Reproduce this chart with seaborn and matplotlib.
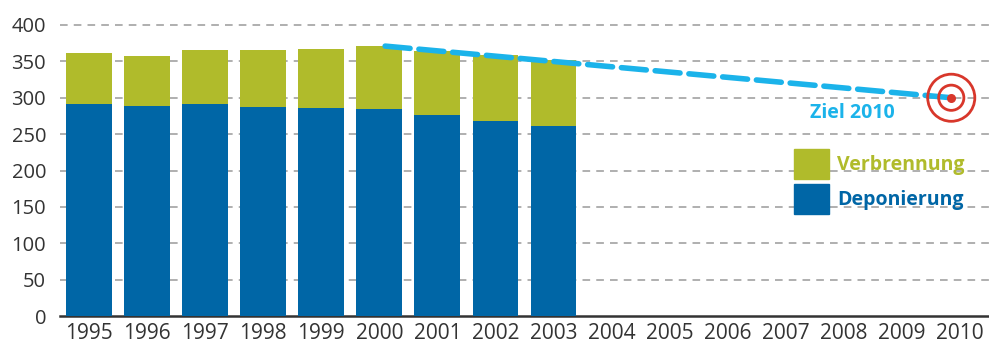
import matplotlib
matplotlib.use("Agg")
import matplotlib.pyplot as plt
import seaborn as sns
import pandas as pd
import numpy as np
from matplotlib.patches import Rectangle

# Waste quantities (stacked): landfill at the bottom, incineration on top
years = [str(y) for y in range(1995, 2011)]
data_years = ["1995", "1996", "1997", "1998", "1999", "2000", "2001", "2002", "2003"]
deponierung = [291, 289, 292, 287, 286, 284, 276, 268, 261]
verbrennung = [70, 69, 73, 78, 81, 87, 88, 91, 91]

# Target path towards 2010 (category positions)
target_pos = [5.1, 14.85]
target_values = [371, 300]

c_blue = "#0066A6"
c_green = "#B0BB2B"
c_cyan = "#1BB3EA"
c_red = "#D8372B"
c_text = "#333333"

sns.set_theme(style="white")
plt.rcParams["font.family"] = ["Open Sans", "DejaVu Sans"]

df = pd.DataFrame({
    "year": data_years,
    "dep": deponierung,
    "total": np.array(deponierung) + np.array(verbrennung),
})

fig = plt.figure(figsize=(9.89, 3.45), dpi=100)
ax = fig.add_axes([60 / 989, 29 / 345, 1 - 60 / 989, 291 / 345])

sns.barplot(data=df, x="year", y="total", order=years, color=c_green,
            width=0.79, saturation=1, linewidth=0, ax=ax, zorder=2)
sns.barplot(data=df, x="year", y="dep", order=years, color=c_blue,
            width=0.79, saturation=1, linewidth=0, ax=ax, zorder=3)

ax.set_xlim(-0.5, 15.43)
ax.set_ylim(0, 400)
ax.set_xlabel("")
ax.set_ylabel("")

# dashed horizontal grid
for v in range(50, 401, 50):
    ax.axhline(v, color="#9a9a9a", lw=1.1, ls=(0, (5, 4)), zorder=1, clip_on=False)

ax.set_yticks(range(0, 401, 50))
ax.tick_params(axis="y", length=0, pad=10, labelsize=14.5, labelcolor=c_text)

# category labels centred, tick marks at category boundaries
ax.set_xticks(range(len(years)))
ax.set_xticklabels(years)
ax.set_xticks(np.arange(-0.5, len(years), 1), minor=True)
ax.tick_params(axis="x", which="major", length=0, pad=5, labelsize=15, labelcolor=c_text)
ax.tick_params(axis="x", which="minor", length=10, width=1.3, color="#444444", direction="out")

for s in ["top", "right", "left"]:
    ax.spines[s].set_visible(False)
ax.spines["bottom"].set_color("#333333")
ax.spines["bottom"].set_linewidth(1.8)

# target path
ax.plot(target_pos, target_values, color=c_cyan, lw=4, ls=(0, (4.5, 1.6)),
        solid_capstyle="round", dash_capstyle="round", zorder=5)

# target symbol
ax.scatter([target_pos[1]], [target_values[1]], s=1150, facecolors="none",
           edgecolors=c_red, linewidths=2.0, zorder=6)
ax.scatter([target_pos[1]], [target_values[1]], s=330, facecolors="none",
           edgecolors=c_red, linewidths=2.0, zorder=6)
ax.scatter([target_pos[1]], [target_values[1]], s=30, color=c_red, zorder=7)

ax.text(13.15, 279, "Ziel 2010", color=c_cyan, fontsize=14, fontweight="bold",
        ha="center", va="center", zorder=6)

# legend
for (y0, col, lab) in [(0, c_green, "Verbrennung"), (1, c_blue, "Deponierung")]:
    top = 149 + y0 * 35
    fig.patches.append(Rectangle((794 / 989, 1 - (top + 30) / 345), 35 / 989, 30 / 345,
                                 transform=fig.transFigure, color=col, zorder=5))
    fig.text(837 / 989, 1 - (top + 16) / 345, lab, color=col, fontsize=14,
             fontweight="bold", va="center", ha="left")

fig.savefig("out.png", dpi=100)
